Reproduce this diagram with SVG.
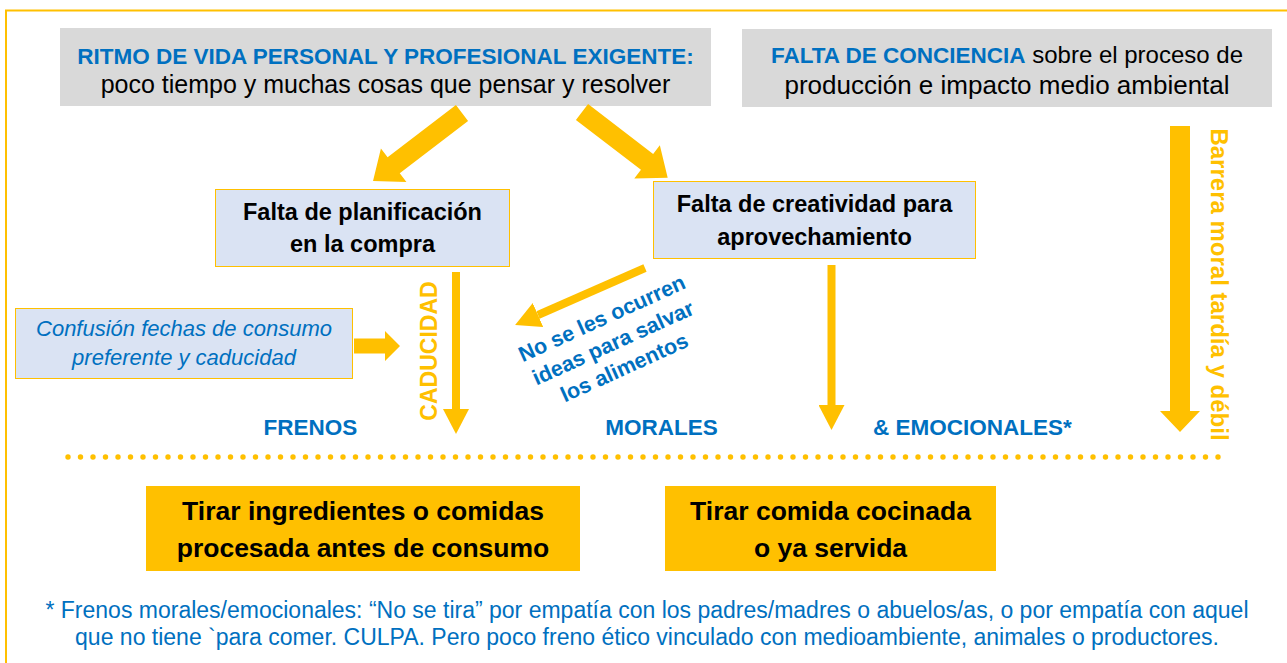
<svg xmlns="http://www.w3.org/2000/svg" width="1287" height="663" viewBox="0 0 1287 663">
<defs>
<style>
.t{font-family:"Liberation Sans",Arial,sans-serif}
.b{font-weight:bold}
.blue{fill:#0070c0}
.blk{fill:#000}
.yel{fill:#ffc000}
.gray{fill:#d9d9d9}
.lb{fill:#dae3f3;stroke:#ffc000;stroke-width:1}
.ybox{fill:#ffc000}
.thin{stroke:#ffc000;stroke-width:8;fill:none}
</style>
<marker id="ah" markerUnits="userSpaceOnUse" markerWidth="26" markerHeight="26" refX="0" refY="13" orient="auto">
<path d="M0,0 L25,13 L0,26 Z" fill="#ffc000"/>
</marker>
</defs>
<rect width="1287" height="663" fill="#fff"/>
<path d="M6,663 V10.5 H1287" fill="none" stroke="#ffc000" stroke-width="2"/>

<g id="n-ritmo">
<rect class="gray" x="60" y="28" width="651" height="78"/>
<text class="t b blue" x="385.5" y="64" font-size="22.5" text-anchor="middle">RITMO DE VIDA PERSONAL Y PROFESIONAL EXIGENTE:</text>
<text class="t blk" x="385.5" y="93" font-size="25" text-anchor="middle">poco tiempo y muchas cosas que pensar y resolver</text>
</g>

<g id="n-conciencia">
<rect class="gray" x="742" y="29" width="530" height="78"/>
<text class="t" x="1007" y="63" font-size="24" text-anchor="middle"><tspan class="b blue" font-size="22.5">FALTA DE CONCIENCIA</tspan><tspan class="blk"> sobre el proceso de</tspan></text>
<text class="t blk" x="1007" y="94" font-size="26" text-anchor="middle">producción e impacto medio ambiental</text>
</g>

<g id="n-planificacion">
<rect class="lb" x="215.5" y="189.5" width="294" height="77"/>
<text class="t b blk" x="362.5" y="220" font-size="23.5" text-anchor="middle">Falta de planificación</text>
<text class="t b blk" x="362.5" y="252" font-size="23.5" text-anchor="middle">en la compra</text>
</g>

<g id="n-creatividad">
<rect class="lb" x="653.5" y="181.5" width="322" height="77"/>
<text class="t b blk" x="814.5" y="212" font-size="23.5" text-anchor="middle">Falta de creatividad para</text>
<text class="t b blk" x="814.5" y="245" font-size="23.5" text-anchor="middle">aprovechamiento</text>
</g>

<g id="n-confusion">
<rect class="lb" x="15.5" y="308.5" width="337" height="70"/>
<text class="t blue" x="184" y="336" font-size="22" font-style="italic" text-anchor="middle">Confusión fechas de consumo</text>
<text class="t blue" x="184" y="365" font-size="22" font-style="italic" text-anchor="middle">preferente y caducidad</text>
</g>

<g id="n-tirar1">
<rect class="ybox" x="146" y="486" width="434" height="85"/>
<text class="t b blk" x="363" y="520" font-size="26.5" text-anchor="middle">Tirar ingredientes o comidas</text>
<text class="t b blk" x="363" y="557" font-size="26.5" text-anchor="middle">procesada antes de consumo</text>
</g>

<g id="n-tirar2">
<rect class="ybox" x="665" y="486" width="331" height="85"/>
<text class="t b blk" x="830.5" y="520" font-size="26.5" text-anchor="middle">Tirar comida cocinada</text>
<text class="t b blk" x="830.5" y="557" font-size="26.5" text-anchor="middle">o ya servida</text>
</g>

<g id="connectors">
<polygon class="yel" transform="translate(462,113) rotate(142.6)" points="0,-10 86,-10 86,-21 112,0 86,21 86,10 0,10"/>
<polygon class="yel" transform="translate(582,112) rotate(37.5)" points="0,-10 82,-10 82,-21 108,0 82,21 82,10 0,10"/>
<polygon class="yel" points="354,338.5 385,338.5 385,331 400,346 385,361 385,353.5 354,353.5"/>
<polygon class="yel" points="1170,126 1190,126 1190,411 1200,411 1180,432 1160,411 1170,411"/>
<line class="thin" x1="456" y1="272" x2="456" y2="409" marker-end="url(#ah)"/>
<line class="thin" x1="831.5" y1="265" x2="831.5" y2="405" marker-end="url(#ah)"/>
<line class="thin" x1="645" y1="268" x2="538" y2="315" marker-end="url(#ah)"/>
</g>

<g id="labels">
<text class="t b yel" transform="translate(437,351) rotate(-90)" font-size="23" text-anchor="middle">CADUCIDAD</text>
<text class="t b yel" transform="translate(1211,284.5) rotate(90)" font-size="24" text-anchor="middle">Barrera moral tardía y débil</text>
<g transform="translate(614,345) rotate(-24.4)">
<text class="t b blue" x="0" y="-22" font-size="21.5" text-anchor="middle">No se les ocurren</text>
<text class="t b blue" x="0" y="5" font-size="21.5" text-anchor="middle">ideas para salvar</text>
<text class="t b blue" x="0" y="32" font-size="21.5" text-anchor="middle">los alimentos</text>
</g>
<text class="t b blue" x="310.5" y="435" font-size="22.5" text-anchor="middle">FRENOS</text>
<text class="t b blue" x="661.5" y="435" font-size="22.5" text-anchor="middle">MORALES</text>
<text class="t b blue" x="972.5" y="435" font-size="22.5" text-anchor="middle">&amp; EMOCIONALES*</text>
</g>

<line x1="68" y1="457" x2="1219" y2="457" stroke="#ffc000" stroke-width="5.4" stroke-linecap="round" stroke-dasharray="0 12.5"/>

<g id="footnote">
<text class="t blue" x="647" y="618" font-size="23" text-anchor="middle">* Frenos morales/emocionales: “No se tira” por empatía con los padres/madres o abuelos/as, o por empatía con aquel</text>
<text class="t blue" x="647" y="645" font-size="23" text-anchor="middle">que no tiene `para comer. CULPA. Pero poco freno ético vinculado con medioambiente, animales o productores.</text>
</g>
</svg>
